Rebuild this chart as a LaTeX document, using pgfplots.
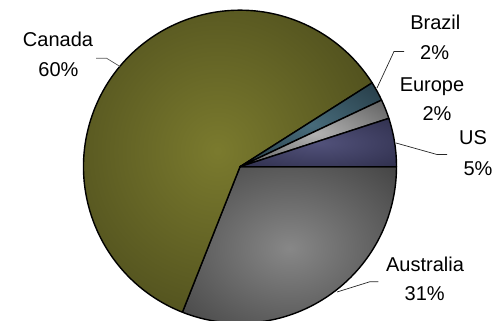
\documentclass[border=0pt]{standalone}
\usepackage{fontspec}
\setmainfont{Liberation Sans}
\usepackage{pgfplots}
\usepackage{pgfplotstable}
\pgfplotsset{compat=1.18}

% Share of production by origin (percent), clockwise from 3 o'clock
\pgfplotstableread{
name      pct
Australia 31
Canada    60
Brazil    2
Europe    2
US        5
}\piedata

% One radial gradient per slice, in table order
\pgfdeclareradialshading{slice0}{\pgfpoint{0bp}{0bp}}{rgb(0bp)=(0.53,0.53,0.53); rgb(38bp)=(0.25,0.25,0.25); rgb(50bp)=(0.24,0.24,0.24)}
\pgfdeclareradialshading{slice1}{\pgfpoint{0bp}{0bp}}{rgb(0bp)=(0.48,0.48,0.18); rgb(36bp)=(0.27,0.27,0.10); rgb(50bp)=(0.27,0.27,0.10)}
\pgfdeclareradialshading{slice2}{\pgfpoint{0bp}{0bp}}{rgb(0bp)=(0.28,0.42,0.48); rgb(40bp)=(0.13,0.21,0.25); rgb(50bp)=(0.13,0.21,0.25)}
\pgfdeclareradialshading{slice3}{\pgfpoint{0bp}{0bp}}{rgb(0bp)=(0.70,0.70,0.70); rgb(40bp)=(0.33,0.33,0.33); rgb(50bp)=(0.33,0.33,0.33)}
\pgfdeclareradialshading{slice4}{\pgfpoint{0bp}{0bp}}{rgb(0bp)=(0.32,0.32,0.48); rgb(40bp)=(0.17,0.17,0.28); rgb(50bp)=(0.17,0.17,0.28)}

% Start, end angles of every slice from the cumulative percentages
\pgfplotstablegetrowsof{\piedata}
\pgfmathtruncatemacro\lastrow{\pgfplotsretval-1}
\gdef\cum{0}
\foreach \i in {0,...,\lastrow}{%
  \pgfplotstablegetelem{\i}{pct}\of\piedata
  \let\v\pgfplotsretval
  \pgfmathsetmacro\a{-3.6*\cum}%
  \pgfmathsetmacro\c{\cum+\v}%
  \pgfmathsetmacro\b{-3.6*\c}%
  \expandafter\xdef\csname sliceA\i\endcsname{\a}%
  \expandafter\xdef\csname sliceB\i\endcsname{\b}%
  \xdef\cum{\c}%
}

\tikzset{pielabel/.style={anchor=base, inner sep=0pt, font=\fontsize{20bp}{29bp}\selectfont}}
\newcommand\pielabel[3]{\node[pielabel] at (axis cs:#1,#2) {#3};}

\begin{document}
\begin{tikzpicture}
\useasboundingbox (0,0) rectangle (497bp,321bp);
\begin{axis}[
  x=1bp, y=1bp,
  xmin=0, xmax=497, ymin=0, ymax=321,
  y dir=reverse,
  hide axis,
  at={(0,0)}, anchor=south west,
  clip=true,
]
\pgfplotsinvokeforeach{0,...,\lastrow}{
  \shadedraw[shading=slice#1, draw=black, line width=1.4bp, line join=round]
    (axis cs:240,166.7) -- ++(\csname sliceA#1\endcsname:156.5bp)
    arc[start angle=\csname sliceA#1\endcsname,
        end angle=\csname sliceB#1\endcsname, radius=156.5bp] -- cycle;
}

% leader lines
\draw[black!65, line width=0.7bp] (axis cs:120,66.5) -- (axis cs:106.7,58.3) -- (axis cs:96,58.3);
\draw[black!85, line width=0.7bp] (axis cs:377,88) -- (axis cs:394,51.5) -- (axis cs:404,51.5);
\draw[black!85, line width=0.7bp] (axis cs:396,143) -- (axis cs:437,154.5) -- (axis cs:447,154.5);
\draw[black!85, line width=0.7bp] (axis cs:337,292) -- (axis cs:370,281.7) -- (axis cs:378.3,281.7);

% labels
\pielabel{58}{46.7}{Canada}
\pielabel{58.5}{76.7}{60\%}
\pielabel{435.3}{29.3}{Brazil}
\pielabel{434.7}{59.3}{2\%}
\pielabel{432}{91}{Europe}
\pielabel{437}{120}{2\%}
\pielabel{473}{144}{US}
\pielabel{478}{175}{5\%}
\pielabel{425}{271.7}{Australia}
\pielabel{424.7}{300}{31\%}
\end{axis}
\end{tikzpicture}
\end{document}
